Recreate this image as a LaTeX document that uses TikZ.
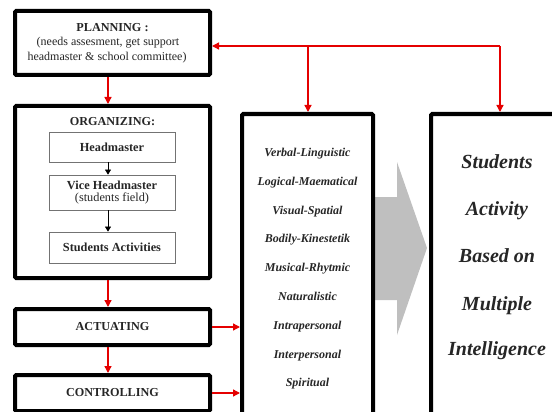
\documentclass[tikz,border=0pt]{standalone}
\usepackage{fontspec}
\setmainfont{Liberation Serif}
\usetikzlibrary{arrows.meta}
\definecolor{txt}{HTML}{262626}
\tikzset{
  bigbox/.style={draw=black, line width=4pt, rounded corners=1.2pt, fill=white, inner sep=0pt},
  smallbox/.style={draw=black!55, line width=0.8pt, fill=white, inner sep=0pt, minimum width=126pt, font=\fontsize{12.3}{13}\selectfont\bfseries, text=txt},
  rarr/.style={draw=red!90!black, line width=1.3pt, -{Triangle[length=7pt,width=7pt]}},
  barr/.style={draw=black, line width=0.6pt, -{Triangle[length=5pt,width=6pt]}},
  mi/.style={font=\fontsize{12}{13}\selectfont\bfseries\itshape, text=txt, text height=8.5pt, text depth=2.5pt, inner sep=0pt},
  big/.style={font=\fontsize{20}{22}\selectfont\bfseries\itshape, text=txt, text height=14pt, text depth=4pt, inner sep=0pt},
  head/.style={font=\fontsize{12.2}{13}\selectfont\bfseries, text=txt},
  plain/.style={font=\fontsize{12}{13}\selectfont, text=txt}
}
\begin{document}
\begin{tikzpicture}[x=1pt,y=-1pt]
\useasboundingbox (0,0) rectangle (552,412);
\clip (0,0) rectangle (552,412);
% gray arrow
\fill[black!25] (360,197) -- (397,197) -- (397,162) -- (427,248) -- (397,335) -- (397,300) -- (360,300) -- cycle;
% left column
\node[bigbox, minimum width=195pt, minimum height=64pt] (plan) at (112.5,43) {};
\node[head] (planT) at (112.5,28) {PLANNING :};
\node[plain] (planL1) at (108,43) {(needs assesment, get support};
\node[plain] (planL2) at (107,57.5) {headmaster \& school committee)};
\node[bigbox, minimum width=195pt, minimum height=172pt] (org) at (112.5,192) {};
\node[head] (orgT) at (112.5,122) {ORGANIZING:};
\node[smallbox, minimum height=30pt] (hm) at (112,147) {Headmaster};
\node[smallbox, minimum height=35pt, align=center] (vh) at (112,192.5) {Vice Headmaster\\[-1.5pt]{\mdseries (students field)}};
\node[smallbox, minimum height=31pt] (sa) at (112,247.5) {Students Activities};
\node[bigbox, minimum width=195pt, minimum height=36pt, head] (act) at (112.5,327) {ACTUATING};
\node[bigbox, minimum width=195pt, minimum height=36pt, head] (ctl) at (112.5,393) {CONTROLLING};
% middle
\node[bigbox, minimum width=131pt, minimum height=316pt] (mid) at (307.5,272) {};
\foreach \t/\y [count=\i] in {Verbal-Linguistic/153, Logical-Maematical/182, Visual-Spatial/211, Bodily-Kinestetik/239, Musical-Rhytmic/268, Naturalistic/297, Intrapersonal/326, Interpersonal/355, Spiritual/383}
  \node[mi] (mi\i) at (307.5,\y) {\t};
% right
\node[bigbox, minimum width=139pt, minimum height=316pt] (res) at (500.5,272) {};
\node[big] (r1) at (497,163) {Students};
\node[big] (r2) at (497,210) {Activity};
\node[big] (r3) at (497,257) {Based on};
\node[big] (r4) at (497,305) {Multiple};
\node[big] (r5) at (497,350) {Intelligence};
% connectors
\coordinate (ax) at (108,0);
\coordinate (jM) at (308,46);
\coordinate (jR) at (500,46);
\draw[rarr] (ax |- plan.south) -- (ax |- org.north);
\draw[rarr] (ax |- org.south) -- (ax |- act.north);
\draw[rarr] (ax |- act.south) -- (ax |- ctl.north);
\draw[barr] (ax |- hm.south) -- (ax |- vh.north);
\draw[barr] (ax |- vh.south) -- (ax |- sa.north);
\draw[rarr] (jR) -- (plan.east |- jR);
\draw[rarr] (jR) -- (jR |- res.north);
\draw[rarr] (jM) -- (jM |- mid.north);
\draw[rarr] (act.east) -- (mid.west |- act.east);
\draw[rarr] (ctl.east) -- (mid.west |- ctl.east);
\end{tikzpicture}
\end{document}
